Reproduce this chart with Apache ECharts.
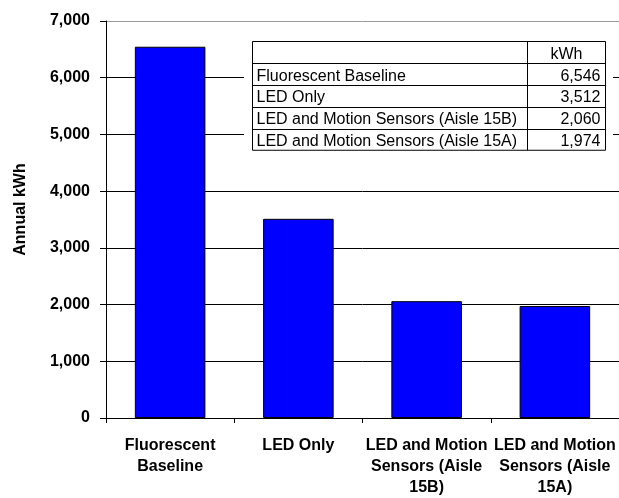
<!DOCTYPE html>
<html>
<head>
<meta charset="utf-8">
<script src="https://cdn.jsdelivr.net/npm/echarts@6/dist/echarts.min.js"></script>
<style>
html,body{margin:0;padding:0;background:#fff;}
#chart{width:619px;height:498px;}
</style>
</head>
<body>
<div id="chart"></div>
<script>
var categories = ['Fluorescent Baseline', 'LED Only', 'LED and Motion Sensors (Aisle 15B)', 'LED and Motion Sensors (Aisle 15A)'];
var tickLabels = ['Fluorescent\nBaseline', 'LED Only', 'LED and Motion\nSensors (Aisle\n15B)', 'LED and Motion\nSensors (Aisle\n15A)'];
var kwhValues = [6546, 3512, 2060, 1974];
var tableHeader = 'kWh';
var yTicks = [0, 1000, 2000, 3000, 4000, 5000, 6000, 7000];

function fmt(v) { return String(v).replace(/\B(?=(\d{3})+(?!\d))/g, ','); }

var FONT = '"Liberation Sans", Arial, sans-serif';

// table layout
var tL = 252.5, tR = 605.5, tDiv = 527.5, tTop = 41.5, rowH = 21.75;
var graphics = [];
var nRows = categories.length + 1;
var tBot = tTop + rowH * nRows;
graphics.push({type:'rect', shape:{x:244, y:37, width:369, height:tBot - 37 + 4}, style:{fill:'#fff'}, z:100});
graphics.push({type:'rect', shape:{x:tL, y:tTop, width:tR - tL, height:tBot - tTop}, style:{fill:'#fff', stroke:'#000', lineWidth:1}, z:101});
graphics.push({type:'line', shape:{x1:tDiv, y1:tTop, x2:tDiv, y2:tBot}, style:{stroke:'#000', lineWidth:1}, z:102});
for (var r = 1; r < nRows; r++) {
  var yy = Math.round(tTop + rowH * r) + 0.5;
  graphics.push({type:'line', shape:{x1:tL, y1:yy, x2:tR, y2:yy}, style:{stroke:'#000', lineWidth:1}, z:102});
}
graphics.push({type:'text', x:(tDiv + tR) / 2, y:tTop + rowH / 2 + 2, style:{text:tableHeader, fill:'#000', font:'16px ' + FONT, textAlign:'center', textVerticalAlign:'middle'}, z:103});
categories.forEach(function (c, i) {
  var cy = tTop + rowH * (i + 1) + rowH / 2 + 2;
  graphics.push({type:'text', x:tL + 4, y:cy, style:{text:c, fill:'#000', font:'16px ' + FONT, textAlign:'left', textVerticalAlign:'middle'}, z:103});
  graphics.push({type:'text', x:tR - 5, y:cy, style:{text:fmt(kwhValues[i]), fill:'#000', font:'16px ' + FONT, textAlign:'right', textVerticalAlign:'middle'}, z:103});
});

var chart = echarts.init(document.getElementById('chart'), null, {renderer:'canvas'});
chart.setOption({
  backgroundColor:'#fff',
  animation:false,
  grid:{left:106, top:21, width:514, height:399, containLabel:false},
  xAxis:{
    type:'category',
    data:tickLabels,
    axisLine:{lineStyle:{color:'#000', width:1}},
    axisTick:{show:true, length:5, lineStyle:{color:'#000'}},
    axisLabel:{color:'#000', fontFamily:FONT, fontWeight:'bold', fontSize:16, lineHeight:21, margin:17, interval:0},
    splitLine:{show:false}
  },
  yAxis:{
    type:'value',
    min:yTicks[0], max:yTicks[yTicks.length - 1], interval:1000,
    name:'Annual kWh',
    nameLocation:'middle',
    nameGap:77,
    nameTextStyle:{color:'#000', fontFamily:FONT, fontWeight:'bold', fontSize:16, padding:[0,0,0,20]},
    axisLine:{show:true, lineStyle:{color:'#000', width:1}},
    axisTick:{show:true, length:6, inside:false, lineStyle:{color:'#000'}},
    axisLabel:{color:'#000', fontFamily:FONT, fontWeight:'bold', fontSize:16, margin:16, formatter:function (v) { return fmt(v); }},
    splitLine:{show:true, showMinLine:true, showMaxLine:true, lineStyle:{color:['#000','#000','#000','#000','#000','#000','#000','#999'], width:1}}
  },
  series:[{
    type:'bar',
    data:kwhValues,
    barWidth:'55%',
    itemStyle:{color:'#0000ff', borderColor:'#000', borderWidth:1},
    z:2
  }],
  graphic:graphics
});
</script>
</body>
</html>
